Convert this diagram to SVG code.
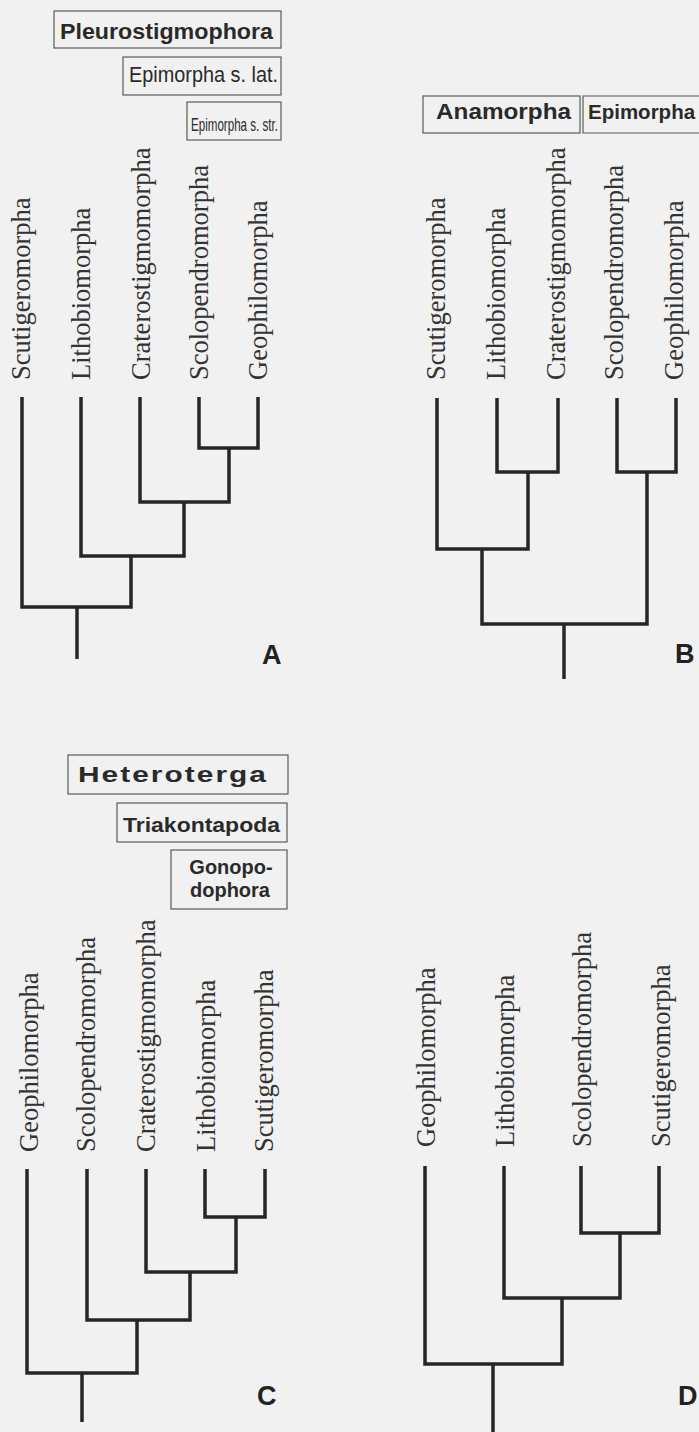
<svg xmlns="http://www.w3.org/2000/svg" width="699" height="1432" viewBox="0 0 699 1432">
<style>
.bg{fill:#f1f1f1}
.box{fill:none;stroke:#5a5a5a;stroke-width:1.2}
.clade{font-family:"Liberation Sans",Arial,sans-serif;fill:#2a2a2a}
.b{font-weight:bold}
.m{font-weight:600}
.taxon{font-family:"Liberation Serif","Times New Roman",serif;font-size:26.5px;fill:#333}
.panel{font-family:"Liberation Sans",Arial,sans-serif;font-weight:bold;font-size:27px;fill:#222}
.edge{fill:none;stroke:#262626;stroke-width:3.5;stroke-linejoin:miter;stroke-linecap:butt}
</style>
<rect class="bg" x="0" y="0" width="699" height="1432"/>

<!-- Panel A -->
<g id="A-clades">
  <g id="A-pleurostigmophora"><rect class="box" x="54" y="11" width="227" height="37"/><text class="clade b" x="60" y="39" font-size="22" textLength="213" lengthAdjust="spacingAndGlyphs">Pleurostigmophora</text></g>
  <g id="A-epimorpha-lat"><rect class="box" x="123" y="57" width="158" height="38"/><text class="clade" x="129" y="82" font-size="22.5" textLength="149" lengthAdjust="spacingAndGlyphs">Epimorpha s. lat.</text></g>
  <g id="A-epimorpha-str"><rect class="box" x="187" y="102" width="94" height="38"/><text class="clade" x="191" y="131" font-size="19" textLength="87" lengthAdjust="spacingAndGlyphs">Epimorpha s. str.</text></g>
</g>
<g id="A-taxa">
  <g id="A-scut"><text class="taxon" transform="translate(30,380) rotate(-90)">Scutigeromorpha</text></g>
  <g id="A-lith"><text class="taxon" transform="translate(89.5,380) rotate(-90)">Lithobiomorpha</text></g>
  <g id="A-crat"><text class="taxon" transform="translate(149.5,380) rotate(-90)">Craterostigmomorpha</text></g>
  <g id="A-scol"><text class="taxon" transform="translate(207.5,380) rotate(-90)">Scolopendromorpha</text></g>
  <g id="A-geo"><text class="taxon" transform="translate(266.5,380) rotate(-90)">Geophilomorpha</text></g>
</g>
<g id="A-edges">
  <path class="edge" d="M199 397V448H258V397"/>
  <path class="edge" d="M140 397V502H229V448"/>
  <path class="edge" d="M81 397V556H184V502"/>
  <path class="edge" d="M22 397V607H131V556"/>
  <path class="edge" d="M77 607V659"/>
</g>
<g id="A-label"><text class="panel" x="262" y="664">A</text></g>

<!-- Panel B -->
<g id="B-clades">
  <g id="B-anamorpha"><rect class="box" x="423" y="96" width="157" height="37"/><text class="clade m" x="436" y="119" font-size="22" textLength="135" lengthAdjust="spacingAndGlyphs">Anamorpha</text></g>
  <g id="B-epimorpha"><path class="box" d="M699 96H583V133H699"/><text class="clade m" x="588" y="119" font-size="20.5">Epimorpha</text></g>
</g>
<g id="B-taxa">
  <g id="B-scut"><text class="taxon" transform="translate(445,380) rotate(-90)">Scutigeromorpha</text></g>
  <g id="B-lith"><text class="taxon" transform="translate(505,380) rotate(-90)">Lithobiomorpha</text></g>
  <g id="B-crat"><text class="taxon" transform="translate(565,380) rotate(-90)">Craterostigmomorpha</text></g>
  <g id="B-scol"><text class="taxon" transform="translate(623,380) rotate(-90)">Scolopendromorpha</text></g>
  <g id="B-geo"><text class="taxon" transform="translate(683,380) rotate(-90)">Geophilomorpha</text></g>
</g>
<g id="B-edges">
  <path class="edge" d="M497 398V472H558V398"/>
  <path class="edge" d="M617 398V472H676V398"/>
  <path class="edge" d="M437 398V549H528V472"/>
  <path class="edge" d="M482 549V624H647V472"/>
  <path class="edge" d="M564 624V679"/>
</g>
<g id="B-label"><text class="panel" x="675" y="663">B</text></g>

<!-- Panel C -->
<g id="C-clades">
  <g id="C-heteroterga"><rect class="box" x="68" y="755" width="220" height="39"/><text class="clade b" x="78" y="782" font-size="22" letter-spacing="1.5" textLength="190" lengthAdjust="spacingAndGlyphs">Heteroterga</text></g>
  <g id="C-triakontapoda"><rect class="box" x="117" y="803" width="170" height="39"/><text class="clade m" x="123" y="832" font-size="21" textLength="157" lengthAdjust="spacingAndGlyphs">Triakontapoda</text></g>
  <g id="C-gonopodophora"><rect class="box" x="171" y="850" width="116" height="59"/><text class="clade m" x="231" y="874" font-size="20" text-anchor="middle">Gonopo-</text><text class="clade m" x="230" y="897" font-size="20" text-anchor="middle">dophora</text></g>
</g>
<g id="C-taxa">
  <g id="C-geo"><text class="taxon" transform="translate(38,1152) rotate(-90)">Geophilomorpha</text></g>
  <g id="C-scol"><text class="taxon" transform="translate(95,1152) rotate(-90)">Scolopendromorpha</text></g>
  <g id="C-crat"><text class="taxon" transform="translate(155,1152) rotate(-90)">Craterostigmomorpha</text></g>
  <g id="C-lith"><text class="taxon" transform="translate(215,1152) rotate(-90)">Lithobiomorpha</text></g>
  <g id="C-scut"><text class="taxon" transform="translate(273,1152) rotate(-90)">Scutigeromorpha</text></g>
</g>
<g id="C-edges">
  <path class="edge" d="M205 1169V1217H265V1169"/>
  <path class="edge" d="M146 1169V1272H236V1217"/>
  <path class="edge" d="M87 1169V1320H190V1272"/>
  <path class="edge" d="M27 1169V1373H137V1320"/>
  <path class="edge" d="M82 1373V1422"/>
</g>
<g id="C-label"><text class="panel" x="257" y="1405">C</text></g>

<!-- Panel D -->
<g id="D-taxa">
  <g id="D-geo"><text class="taxon" transform="translate(435,1147) rotate(-90)">Geophilomorpha</text></g>
  <g id="D-lith"><text class="taxon" transform="translate(514,1147) rotate(-90)">Lithobiomorpha</text></g>
  <g id="D-scol"><text class="taxon" transform="translate(591,1147) rotate(-90)">Scolopendromorpha</text></g>
  <g id="D-scut"><text class="taxon" transform="translate(670,1147) rotate(-90)">Scutigeromorpha</text></g>
</g>
<g id="D-edges">
  <path class="edge" d="M581 1166V1233H659V1166"/>
  <path class="edge" d="M504 1166V1298H620V1233"/>
  <path class="edge" d="M425 1166V1364H562V1298"/>
  <path class="edge" d="M493 1364V1432"/>
</g>
<g id="D-label"><text class="panel" x="678" y="1405">D</text></g>
</svg>
